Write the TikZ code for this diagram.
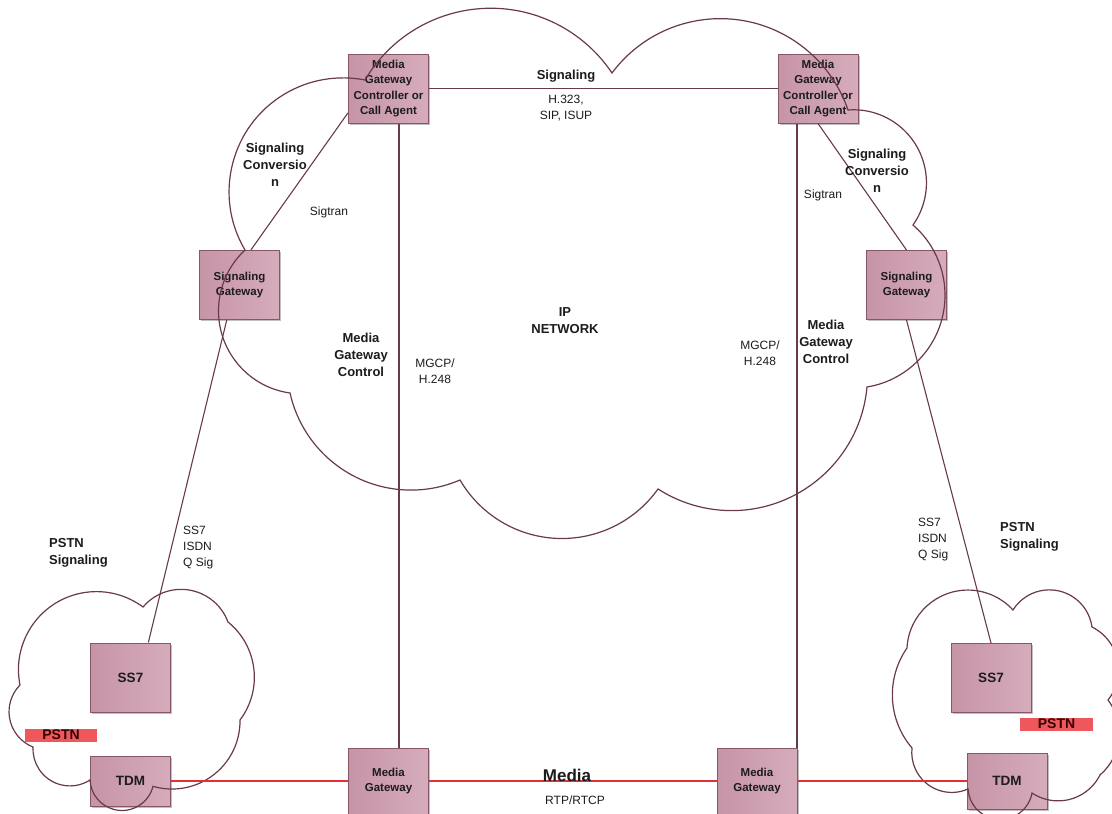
\documentclass[tikz,border=0pt]{standalone}
\usepackage{fontspec}
\setmainfont{Liberation Sans}
\usetikzlibrary{svg.path,shadows}

\definecolor{boxleft}{RGB}{198,148,167}
\definecolor{boxright}{RGB}{214,172,188}
\definecolor{boxline}{RGB}{135,86,104}
\definecolor{wire}{RGB}{105,58,72}
\definecolor{txt}{RGB}{28,28,28}
\definecolor{media}{RGB}{226,48,52}
\definecolor{pstnfill}{RGB}{238,88,92}

\begin{document}
\begin{tikzpicture}[x=1pt,y=-1pt,
  box/.style={draw=boxline, line width=1pt, left color=boxleft, right color=boxright,
    drop shadow={shadow xshift=1.5pt, shadow yshift=-1.5pt, fill=black, opacity=0.25},
    text=txt, align=center, inner sep=1pt, minimum width=80pt, minimum height=69pt,
    font=\bfseries\fontsize{11.5}{15.2}\selectfont},
  bigtext/.style={font=\bfseries\fontsize{13.5}{15}\selectfont},
  cloudline/.style={draw=wire, line width=1.2pt},
  wireline/.style={draw=wire, line width=1.1pt},
  medialine/.style={draw=media, line width=1.4pt},
  lab/.style={text=txt, align=center, inner sep=0pt, font=\bfseries\fontsize{13}{17}\selectfont},
  note/.style={text=txt, align=center, inner sep=0pt, font=\fontsize{12}{16}\selectfont},
  pstnbar/.style={fill=pstnfill, minimum width=72pt, minimum height=13pt, inner sep=0pt,
    text=black!80!red, font=\bfseries\fontsize{14}{14}\selectfont}
]
\useasboundingbox[fill=white] (0,0) rectangle (1112,814);

% ---- boxes ----
\node[box] (lmgc) at (388.5,88.5) {Media\\Gateway\\Controller or\\Call Agent};
\node[box] (rmgc) at (818,88.5) {Media\\Gateway\\Controller or\\Call Agent};
\node[box] (lsg) at (239.5,285) {Signaling\\Gateway};
\node[box] (rsg) at (906.5,285) {Signaling\\Gateway};
\node[box, bigtext] (lss7) at (130.5,677.5) {SS7};
\node[box, bigtext] (rss7) at (991,678) {SS7};
\node[box, bigtext, minimum height=50pt] (ltdm) at (130.5,781) {TDM};
\node[box, bigtext, minimum height=56pt] (rtdm) at (1007,781) {TDM};
\node[box, minimum height=66pt] (lmg) at (388.5,781) {Media\\Gateway};
\node[box, minimum height=66pt] (rmg) at (757,781) {Media\\Gateway};

% ---- clouds ----
\begin{scope}[yscale=-1]
\draw[cloudline] svg "M 365 80 A 146 146 0 0 1 612 73 A 135 135 0 0 1 848 110
  A 73 73 0 0 1 913 225 A 93 93 0 0 1 867 387 A 136 136 0 0 1 658 489
  A 118 118 0 0 1 460 480 A 124 124 0 0 1 290 393 A 83 83 0 0 1 245 250
  A 114 114 0 0 1 365 80 Z";
\draw[cloudline] svg "M 20 685 A 78 78 0 0 1 143 607 A 50 50 0 0 1 228 622
  A 71 71 0 0 1 240 720 A 68 68 0 0 1 153 787 A 32 32 0 0 1 90 780
  A 37 37 0 0 1 33 747 A 38 38 0 0 1 20 685 Z";
\draw[cloudline] svg "M 907 648 A 61 61 0 0 1 1013 610 A 43 43 0 0 1 1092 627
  A 48 48 0 0 1 1108 700 A 55 55 0 0 1 1100 775 A 47 47 0 0 1 1032 793
  A 32.3 32.3 0 0 1 968 789 A 40 40 0 0 1 912 748 A 82 82 0 0 1 907 648 Z";
\end{scope}

% ---- connectors ----
\draw[wireline] (lmgc.east) -- (rmgc.west);
\draw[wireline] (lsg.72) -- (lmgc.211);
\draw[wireline] (rsg.north) -- (rmgc.south);
\draw[wireline] (lsg.250) -- (lss7.63);
\draw[wireline] (rsg.south) -- (rss7.north);
\draw[wireline] ([xshift=10.5pt]lmgc.south) -- ([xshift=10.5pt]lmgc.south |- lmg.north);
\draw[wireline] ([xshift=-21pt]rmgc.south) -- ([xshift=-21pt]rmgc.south |- rmg.north);
\draw[medialine] (ltdm.east) -- (lmg.west);
\draw[medialine] (lmg.east) -- (rmg.west);
\draw[medialine] (rmg.east) -- (rtdm.west);

% ---- labels ----
\node[lab] (tsig) at (566,76) {Signaling};
\node[note] (tproto) at (566,108) {H.323,\\SIP, ISUP};
\node[lab] (tconvl) at (275,165) {Signaling\\Conversio\\n};
\node[lab] (tconvr) at (877,171) {Signaling\\Conversio\\n};
\node[note] (tsigtl) at (329,212) {Sigtran};
\node[note] (tsigtr) at (823,195) {Sigtran};
\node[lab] (tmgcl) at (361,355) {Media\\Gateway\\Control};
\node[lab] (tmgcr) at (826,342) {Media\\Gateway\\Control};
\node[note] (tmgcpl) at (435,371) {MGCP/\\H.248};
\node[note] (tmgcpr) at (760,353) {MGCP/\\H.248};
\node[lab] (tip) at (565,321) {IP\\NETWORK};
\node[note, align=left, anchor=west] (tss7l) at (183,548) {SS7\\ISDN\\Q Sig};
\node[note, align=left, anchor=west] (tss7r) at (918,540) {SS7\\ISDN\\Q Sig};
\node[lab, align=left, anchor=west] (tpstnl) at (49,553) {PSTN\\Signaling};
\node[lab, align=left, anchor=west] (tpstnr) at (1000,537) {PSTN\\Signaling};
\node[pstnbar] (pstnl) at (61,735) {PSTN};
\node[pstnbar, minimum width=73pt] (pstnr) at (1056.5,724) {PSTN};
\node[lab, font=\bfseries\fontsize{17}{17}\selectfont] (tmedia) at (567,775) {Media};
\node[note] (trtp) at (575,800) {RTP/RTCP};
\end{tikzpicture}
\end{document}
